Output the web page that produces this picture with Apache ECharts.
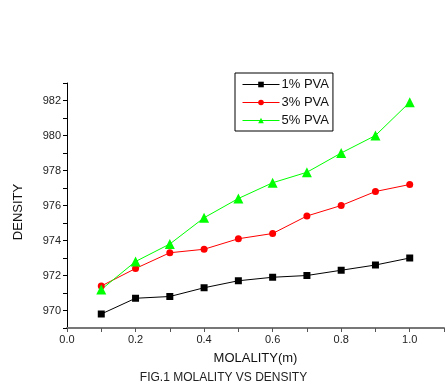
<!DOCTYPE html>
<html>
<head>
<meta charset="utf-8">
<script src="https://cdn.jsdelivr.net/npm/echarts@6/dist/echarts.min.js"></script>
<style>
  html, body { margin: 0; padding: 0; background: #fff; }
  #main { width: 447px; height: 385px; }
</style>
</head>
<body>
<div id="main"></div>
<script>
var molality = [0.1, 0.2, 0.3, 0.4, 0.5, 0.6, 0.7, 0.8, 0.9, 1.0];
var pva1 = [969.8, 970.7, 970.8, 971.3, 971.7, 971.9, 972.0, 972.3, 972.6, 973.0];
var pva3 = [971.4, 972.4, 973.3, 973.5, 974.1, 974.4, 975.4, 976.0, 976.8, 977.2];
var pva5 = [971.2, 972.8, 973.8, 975.3, 976.4, 977.3, 977.9, 979.0, 980.0, 981.9];
var seriesNames = ['1% PVA', '3% PVA', '5% PVA'];

function pairs(ys) {
    return molality.map(function (x, i) { return [x, ys[i]]; });
}

var chart = echarts.init(document.getElementById('main'));

var fontFam = '"Liberation Sans", Arial, sans-serif';

var option = {
    animation: false,
    backgroundColor: '#fff',
    title: {
        text: 'FIG.1 MOLALITY VS DENSITY',
        left: 'center',
        top: 372,
        textStyle: { fontFamily: fontFam, fontSize: 12, fontWeight: 'normal', color: '#222' },
        padding: 0
    },
    graphic: [{
        type: 'text',
        x: 18,
        y: 212,
        rotation: Math.PI / 2,
        style: {
            text: 'DENSITY',
            fontFamily: fontFam,
            fontSize: 13,
            fill: '#111',
            align: 'center',
            verticalAlign: 'middle'
        }
    }],
    legend: {
        orient: 'vertical',
        left: 235,
        top: 73,
        padding: [5, 4, 4, 7],
        borderColor: '#000',
        borderWidth: 1,
        itemWidth: 37,
        itemHeight: 7,
        itemGap: 5,
        lineStyle: { width: 1 },
        textStyle: { fontFamily: fontFam, fontSize: 13, color: '#111', padding: [0, 0, 0, -3] },
        data: seriesNames
    },
    grid: {
        left: 67,
        right: 0,
        top: 83,
        bottom: 57
    },
    xAxis: {
        type: 'value',
        min: 0,
        max: 1.1,
        interval: 0.1,
        name: 'MOLALITY(m)',
        nameLocation: 'middle',
        nameGap: 24,
        nameTextStyle: { fontFamily: fontFam, fontSize: 13, color: '#111' },
        axisLine: { lineStyle: { color: '#777', width: 2 } },
        axisTick: { inside: false, length: 4, lineStyle: { color: '#555' } },
        axisLabel: {
            fontFamily: fontFam, fontSize: 11, color: '#222', margin: 6,
            formatter: function (v) {
                var t = Math.round(v * 10);
                return (t % 2 === 0 && t <= 10) ? (t / 10).toFixed(1) : '';
            }
        },
        splitLine: { show: false }
    },
    yAxis: {
        type: 'value',
        min: 969,
        max: 983,
        interval: 1,
        axisLine: { show: true, lineStyle: { color: '#000', width: 1 } },
        axisTick: { show: true, inside: false, length: 4, lineStyle: { color: '#000' } },
        axisLabel: {
            fontFamily: fontFam, fontSize: 11, color: '#222', margin: 6,
            formatter: function (v) {
                return (Math.round(v) % 2 === 0 && v < 983) ? String(v) : '';
            }
        },
        splitLine: { show: false }
    },
    series: [
        {
            name: seriesNames[0],
            type: 'line',
            data: pairs(pva1),
            symbol: 'rect',
            symbolSize: 7,
            color: '#000',
            lineStyle: { color: '#000', width: 1 },
            itemStyle: { color: '#000' }
        },
        {
            name: seriesNames[1],
            type: 'line',
            data: pairs(pva3),
            symbol: 'circle',
            symbolSize: 7,
            color: '#ff0000',
            lineStyle: { color: '#ff0000', width: 1 },
            itemStyle: { color: '#ff0000' }
        },
        {
            name: seriesNames[2],
            type: 'line',
            data: pairs(pva5),
            symbol: 'triangle',
            symbolSize: 10,
            color: '#00ff00',
            lineStyle: { color: '#00ff00', width: 1 },
            itemStyle: { color: '#00ff00' }
        }
    ]
};

chart.setOption(option);
</script>
</body>
</html>
